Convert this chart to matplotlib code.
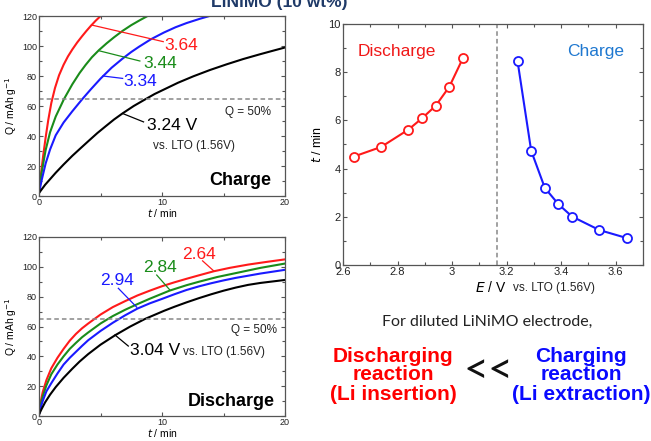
import matplotlib
matplotlib.use("Agg")
import matplotlib.pyplot as plt
from matplotlib.ticker import MultipleLocator

plt.rcParams['font.family'] = ['Liberation Sans', 'DejaVu Sans']

# ---------------- data ----------------
# Charge Q(t) curves (top-left)
chg_labels = ["3.64", "3.44", "3.34", "3.24 V"]
chg_red_t = [0, 0.1, 0.2, 0.35, 0.54, 0.75, 1.0, 1.3, 1.63, 2.0, 2.35, 2.71, 3.1, 3.5,
             3.85, 4.2, 4.6, 5.01, 5.3]
chg_red_q = [2, 10, 17.5, 27.5, 39, 50.5, 62, 72, 80.5, 87.5, 93, 97.7, 102.3, 106.5,
             110, 113.3, 116.8, 120, 122]
chg_green_t = [0, 0.2, 0.54, 0.9, 1.36, 2.03, 2.71, 3.3, 3.8, 4.3, 4.88, 5.5, 6.1, 6.78,
               7.5, 8.2, 8.94, 9.3]
chg_green_q = [2, 15, 30.6, 42.5, 53, 64.6, 74.5, 82, 87.5, 92.5, 97.3, 101.8, 105.8, 110,
               113.9, 117.2, 120.5, 122]
chg_blue_t = [0, 0.2, 0.54, 0.9, 1.36, 2.0, 2.71, 3.52, 4.2, 5.01, 5.9, 6.78, 7.5, 8.13,
              9.1, 10.16, 11.1, 12.0, 13.1, 14.2, 14.6]
chg_blue_q = [2, 10, 21.7, 31, 40.5, 49, 56.5, 64.6, 71, 78.3, 85.5, 91.5, 96, 99.5,
              104.5, 109, 112.5, 115.3, 118.2, 120.8, 121.7]
chg_black_t = [0, 0.5, 1.36, 2.0, 2.71, 3.4, 4.07, 4.75, 5.42, 6.1, 6.78, 7.7, 8.67, 9.4,
               10.16, 11.3, 12.55, 13.9, 15.26, 16.6, 17.97, 19.0, 20]
chg_black_q = [2, 7.5, 15.5, 21, 26.8, 32, 37, 42, 46.5, 51, 55, 60, 64.6, 68,
               71, 75.5, 79.8, 84, 87.8, 91.3, 94.5, 96.8, 99]

# Discharge Q(t) curves (bottom-left)
dis_labels = ["2.64", "2.84", "2.94", "3.04 V"]
dis_red_t = [0, 0.15, 0.3, 0.6, 1, 1.5, 2, 2.5, 3, 3.5, 4, 5, 6, 7, 8, 9, 10, 11, 12, 13,
             14.2, 15.5, 17, 18.5, 20]
dis_red_q = [1, 10, 16, 24, 32, 39, 45, 50.5, 55, 58.8, 62, 68, 73, 77, 80.8, 84, 87, 89.6,
             92, 94.3, 97, 99.3, 101.5, 103.3, 105]
dis_green_t = [0, 0.15, 0.3, 0.6, 1, 1.5, 2, 2.5, 3, 3.5, 4, 5, 6, 7, 8, 9, 10.6, 12, 13,
               14.5, 16, 18, 20]
dis_green_q = [1, 8, 13, 20.5, 28, 34.5, 40, 45, 49, 52.8, 56, 62, 67, 71.2, 75, 78.6, 84,
               87.7, 90, 93.2, 95.8, 99.3, 102.2]
dis_blue_t = [0, 0.15, 0.3, 0.6, 1, 1.5, 2, 2.5, 3, 3.5, 4, 5, 6, 7, 8, 9, 10, 11, 12, 13,
              14, 15, 16, 18, 20]
dis_blue_q = [1, 6, 10, 16.5, 22, 28.5, 34.5, 39, 43, 47, 50.8, 57, 62.5, 67.5, 72, 75.5,
              78.5, 81.6, 84.5, 86.9, 89, 90.9, 92.6, 95.5, 98]
dis_black_t = [0, 0.2, 0.5, 0.9, 1.36, 2, 2.71, 3.3, 4, 5, 6.2, 7.4, 8.6, 10.16, 11, 12,
               13, 14, 15, 16, 17, 18, 19, 20]
dis_black_q = [1, 4.5, 9.2, 14.3, 19.4, 25.6, 31.7, 36.5, 41.5, 47.8, 54.2, 59.9, 65, 70.5,
               73.2, 76.2, 79, 81.6, 84, 86.1, 87.9, 89.2, 90.2, 91.2]

Q_half = 65

# Right plot: time to reach 50% vs potential
E_dis = [2.64, 2.74, 2.84, 2.89, 2.94, 2.99, 3.04]
t_dis = [4.50, 4.90, 5.62, 6.09, 6.61, 7.40, 8.59]
E_chg = [3.24, 3.29, 3.34, 3.39, 3.44, 3.54, 3.64]
t_chg = [8.46, 4.74, 3.20, 2.52, 2.01, 1.45, 1.12]
E_split = 3.165

# ---------------- style ----------------
RED = '#ff1a1a'
GREEN = '#1a8c1a'
BLUE = '#1a1aff'
BLACK = '#000000'
SPINE = '#555555'

fig = plt.figure(figsize=(6.51, 4.41), dpi=100)


def style_axes(ax, xmaj, xmin, ymaj, ymin, lsize):
    ax.xaxis.set_major_locator(MultipleLocator(xmaj))
    ax.xaxis.set_minor_locator(MultipleLocator(xmin))
    ax.yaxis.set_major_locator(MultipleLocator(ymaj))
    ax.yaxis.set_minor_locator(MultipleLocator(ymin))
    ax.tick_params(which='both', direction='in', top=True, right=True,
                   colors=SPINE, labelcolor='#222222', labelsize=lsize, width=0.8)
    ax.tick_params(which='major', length=3, pad=1.5)
    ax.tick_params(which='minor', length=2)
    for s in ax.spines.values():
        s.set_color(SPINE)
        s.set_linewidth(0.9)


def q_panel(ax, curves, labels, lines, label_pos, vs_pos, vs_va, q50_pos, mode_text, mode_pos):
    colors = [RED, GREEN, BLUE, BLACK]
    for (t, q), c in zip(curves, colors):
        ax.plot(t, q, color=c, lw=1.5, clip_on=True, solid_joinstyle='round')
    ax.axhline(Q_half, color='#888888', lw=1.1, dashes=(3, 2))
    for (p0, p1), c in zip(lines, colors):
        ax.plot([p0[0], p1[0]], [p0[1], p1[1]], color=c, lw=0.9)
    for lab, pos, c in zip(labels, label_pos, colors):
        ax.text(pos[0], pos[1], lab, color=c, fontsize=12.5, ha='left', va='baseline')
    ax.text(vs_pos[0], vs_pos[1], 'vs. LTO (1.56V)', fontsize=8.5, ha='left', va=vs_va,
            color='#222222')
    ax.text(q50_pos[0], q50_pos[1], 'Q = 50%', fontsize=8.5, ha='right', va='center',
            color='#222222')
    ax.text(mode_pos[0], mode_pos[1], mode_text, fontsize=13, fontweight='bold',
            ha='right', va='center')
    ax.set_xlim(0, 20)
    ax.set_ylim(0, 120)
    style_axes(ax, 10, 5, 20, 10, 6.5)
    ax.set_ylabel(r'Q / mAh g$^{-1}$', fontsize=7.5, labelpad=2)
    ax.set_xlabel(r'$\it{t}$ / min', fontsize=7.5, labelpad=0)


# Top-left: charge
ax1 = fig.add_axes([39 / 651, 1 - 196 / 441, 246 / 651, 180 / 441])
q_panel(ax1,
        [(chg_red_t, chg_red_q), (chg_green_t, chg_green_q),
         (chg_blue_t, chg_blue_q), (chg_black_t, chg_black_q)],
        chg_labels,
        [((4.27, 114), (10.1, 102.9)), ((4.94, 96.7), (8.2, 90)),
         ((5.2, 80.0), (6.8, 78.4)), ((6.8, 55), (8.5, 49.4))],
        [(10.2, 97.5), (8.5, 85.0), (6.85, 73.0), (8.74, 44.3)],
        (9.28, 33.2), 'center', (18.9, 56), 'Charge', (18.9, 10.5))

# Bottom-left: discharge
ax2 = fig.add_axes([39 / 651, 1 - 416 / 441, 246 / 651, 179 / 441])
q_panel(ax2,
        [(dis_red_t, dis_red_q), (dis_green_t, dis_green_q),
         (dis_blue_t, dis_blue_q), (dis_black_t, dis_black_q)],
        dis_labels,
        [((13.3, 104), (14.2, 97.3)), ((9.57, 94.5), (10.64, 84.5)),
         ((6.45, 85.6), (7.95, 72.9)), ((6.18, 54.3), (7.26, 46.9))],
        [(11.6, 105.5), (8.43, 96.8), (4.96, 87.9), (7.4, 40.9)],
        (11.68, 40.9), 'baseline', (19.38, 57.6), 'Discharge', (19.19, 9.6))

# Right: t(50%) vs E
ax3 = fig.add_axes([343 / 651, 1 - 265 / 441, 300 / 651, 241 / 441])
ax3.plot(E_dis, t_dis, color=RED, lw=1.5, marker='o', ms=6.5, mfc='white',
         mec=RED, mew=1.3)
ax3.plot(E_chg, t_chg, color=BLUE, lw=1.5, marker='o', ms=6.5, mfc='white',
         mec=BLUE, mew=1.3)
ax3.axvline(E_split, color='#888888', lw=1.1, dashes=(3, 2))
ax3.text(2.655, 8.86, 'Discharge', color='#f01818', fontsize=12.5, ha='left', va='center')
ax3.text(3.631, 8.86, 'Charge', color='#1f78d0', fontsize=12.5, ha='right', va='center')
ax3.set_xlim(2.6, 3.7)
ax3.set_ylim(0, 10)
style_axes(ax3, 0.2, 0.1, 2, 1, 8)
ax3.set_xticks([2.6, 2.8, 3.0, 3.2, 3.4, 3.6])
ax3.set_xticklabels(['2.6', '2.8', '3', '3.2', '3.4', '3.6'])
ax3.set_ylabel(r'$\it{t}$ / min', fontsize=9, labelpad=3)
fig.text(507 / 651, 1 - 288 / 441, r'$\it{E}$ / V', fontsize=10, ha='right', va='center')
fig.text(513 / 651, 1 - 288 / 441, 'vs. LTO (1.56V)', fontsize=8.5, ha='left', va='center',
         color='#222222')

# Title (cut off at top, as in the original)
fig.text(279 / 651, 1 - 7 / 441, 'LiNiMO (10 wt%)', fontsize=12.5, fontweight='bold',
         color='#1f3a68', ha='center', va='baseline')

# Bottom-right summary text
fig.text(487 / 651, 1 - 322 / 441, 'For diluted LiNiMO electrode,', fontsize=11.5,
         family=['Lato', 'DejaVu Sans'], ha='center', va='center', color='#222222')
fig.text(393 / 651, 1 - 375 / 441, 'Discharging\nreaction\n(Li insertion)', fontsize=15,
         fontweight='bold', color='#ff0000', ha='center', va='center', linespacing=1.0,
         multialignment='center')
fig.text(488 / 651, 1 - 371 / 441, '<<', fontsize=31, color='#111111', ha='center',
         va='center', family=['Lato', 'DejaVu Sans'])
fig.text(581 / 651, 1 - 375 / 441, 'Charging\nreaction\n(Li extraction)', fontsize=15,
         fontweight='bold', color='#0a0aff', ha='center', va='center', linespacing=1.0,
         multialignment='center')

fig.savefig('out.png', dpi=100)
